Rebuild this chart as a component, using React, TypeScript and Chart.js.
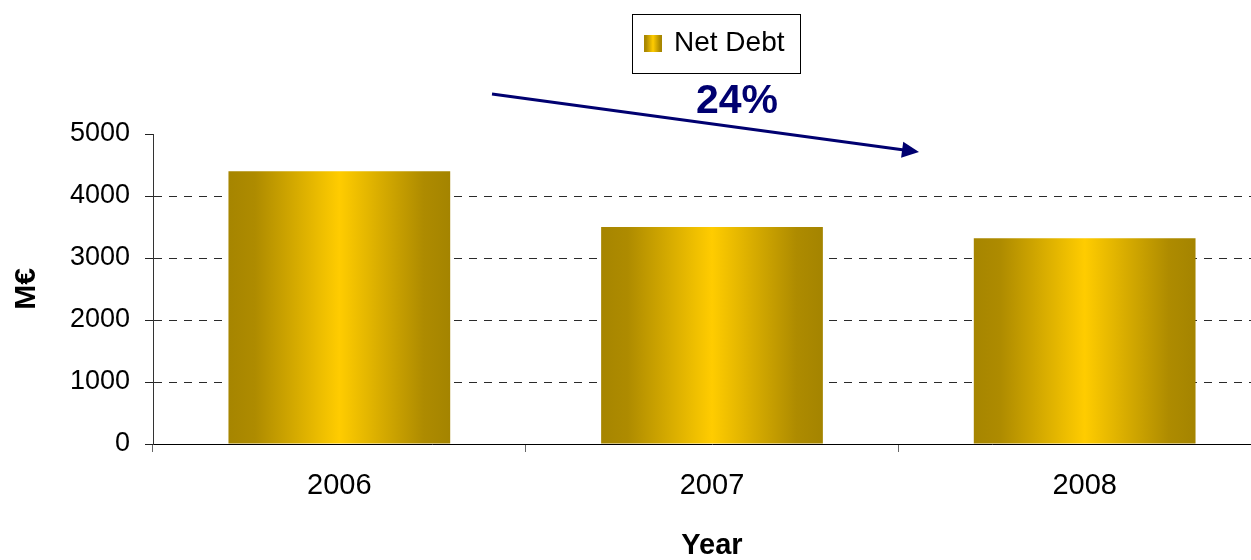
import React, { useEffect, useRef } from "react";
import { Chart, registerables } from "chart.js";

Chart.register(...registerables);

const years: string[] = ["2006", "2007", "2008"];
const netDebt: number[] = [4400, 3500, 3320];
const yTicks: number[] = [0, 1000, 2000, 3000, 4000, 5000];
const seriesLabel = "Net Debt";
const changeLabel = "24%";
const yTitle = "M€";
const xTitle = "Year";

const FONT = "'Liberation Sans', Arial, sans-serif";
const BAR_PCT = 0.595;
const NAVY = "#000070";

function goldGradient(c: CanvasRenderingContext2D, x0: number, x1: number) {
  const g = c.createLinearGradient(x0, 0, x1, 0);
  g.addColorStop(0, "#A68500");
  g.addColorStop(0.12, "#AE8B00");
  g.addColorStop(0.5, "#FFCC00");
  g.addColorStop(0.88, "#AE8B00");
  g.addColorStop(1, "#A48400");
  return g;
}

const annotationPlugin = {
  id: "annots",
  afterDraw(chart: any) {
    const c: CanvasRenderingContext2D = chart.ctx;
    c.save();
    // legend box
    c.fillStyle = "#ffffff";
    c.fillRect(632.5, 14.5, 168, 59);
    c.strokeStyle = "#000000";
    c.lineWidth = 1;
    c.strokeRect(632.5, 14.5, 168, 59);
    c.fillStyle = goldGradient(c, 644, 662);
    c.fillRect(644, 35, 18, 17);
    c.fillStyle = "#000000";
    c.font = `28px ${FONT}`;
    c.textAlign = "left";
    c.textBaseline = "alphabetic";
    c.fillText(chart.data.datasets[0].label, 674, 51);

    // change label
    c.fillStyle = NAVY;
    c.font = `bold 41px ${FONT}`;
    c.textAlign = "center";
    c.fillText(changeLabel, 737, 113);

    // arrow
    const x0 = 492, y0 = 94, x1 = 919, y1 = 152;
    const ang = Math.atan2(y1 - y0, x1 - x0);
    const headLen = 17, headW = 8;
    const bx = x1 - headLen * Math.cos(ang);
    const by = y1 - headLen * Math.sin(ang);
    c.strokeStyle = NAVY;
    c.lineWidth = 3;
    c.beginPath();
    c.moveTo(x0, y0);
    c.lineTo(bx + 2 * Math.cos(ang), by + 2 * Math.sin(ang));
    c.stroke();
    c.fillStyle = NAVY;
    c.beginPath();
    c.moveTo(x1, y1);
    c.lineTo(bx - headW * Math.sin(ang), by + headW * Math.cos(ang));
    c.lineTo(bx + headW * Math.sin(ang), by - headW * Math.cos(ang));
    c.closePath();
    c.fill();
    c.restore();
  },
};

export default function App() {
  const ref = useRef<HTMLCanvasElement | null>(null);

  useEffect(() => {
    document.body.style.margin = "0";
    const canvas = ref.current;
    if (!canvas) return;
    const chart = new Chart(canvas, {
      type: "bar",
      data: {
        labels: years,
        datasets: [
          {
            label: seriesLabel,
            data: netDebt,
            backgroundColor: (ctx: any) => {
              const ch = ctx.chart;
              const xs = ch.scales && ch.scales.x;
              if (!xs || ctx.dataIndex === undefined) return "#E0B000";
              const center = xs.getPixelForValue(ctx.dataIndex);
              const w = (xs.width / years.length) * BAR_PCT;
              if (!isFinite(center) || !isFinite(w) || w <= 0) return "#E0B000";
              return goldGradient(ch.ctx, center - w / 2, center + w / 2);
            },
            borderWidth: 0,
            categoryPercentage: 1,
            barPercentage: BAR_PCT,
          },
        ],
      },
      options: {
        responsive: false,
        animation: false,
        devicePixelRatio: 1,
        layout: { padding: { top: 134, right: 1, left: 0, bottom: 0 } },
        plugins: {
          legend: { display: false },
          tooltip: { enabled: false },
          title: { display: false },
        },
        scales: {
          x: {
            afterFit: (s: any) => {
              s.height = 116;
            },
            grid: {
              display: true,
              offset: true,
              drawOnChartArea: false,
              drawTicks: true,
              tickLength: 8,
              tickColor: "#666666",
              color: "#666666",
            },
            border: { display: true, color: "#000000", width: 1 },
            ticks: {
              color: "#000000",
              padding: 17,
              font: { family: FONT, size: 29, lineHeight: 1.2 },
              maxRotation: 0,
            },
            title: {
              display: true,
              text: xTitle,
              color: "#000000",
              font: { family: FONT, size: 29, weight: "bold", lineHeight: 1 },
              padding: { top: 0, bottom: 0 },
            },
          },
          y: {
            min: 0,
            max: 5000,
            afterFit: (s: any) => {
              s.width = 153;
            },
            afterBuildTicks: (s: any) => {
              s.ticks = yTicks.map((v) => ({ value: v }));
            },
            grid: {
              display: true,
              drawOnChartArea: true,
              drawTicks: true,
              tickLength: 8,
              lineWidth: 1,
              color: (ctx: any) =>
                ctx.tick && (ctx.tick.value === 0 || ctx.tick.value === 5000)
                  ? "rgba(0,0,0,0)"
                  : "#2a2a2a",
              tickColor: "#222222",
            },
            border: { display: true, color: "#333333", width: 1, dash: [8, 7] },
            ticks: {
              color: "#000000",
              padding: 15,
              font: { family: FONT, size: 27 },
              callback: (v: any) => String(v),
            },
            title: {
              display: true,
              text: yTitle,
              color: "#000000",
              font: { family: FONT, size: 30, weight: "bold", lineHeight: 1 },
              padding: { top: 12, bottom: 0 },
            },
          },
        },
      },
      plugins: [annotationPlugin],
    });
    return () => chart.destroy();
  }, []);

  return (
    <div
      style={{
        position: "fixed",
        left: 0,
        top: 0,
        width: 1251,
        height: 560,
        overflow: "hidden",
        background: "#ffffff",
      }}
    >
      <canvas ref={ref} width={1272} height={560} style={{ width: 1272, height: 560, display: "block" }} />
    </div>
  );
}
